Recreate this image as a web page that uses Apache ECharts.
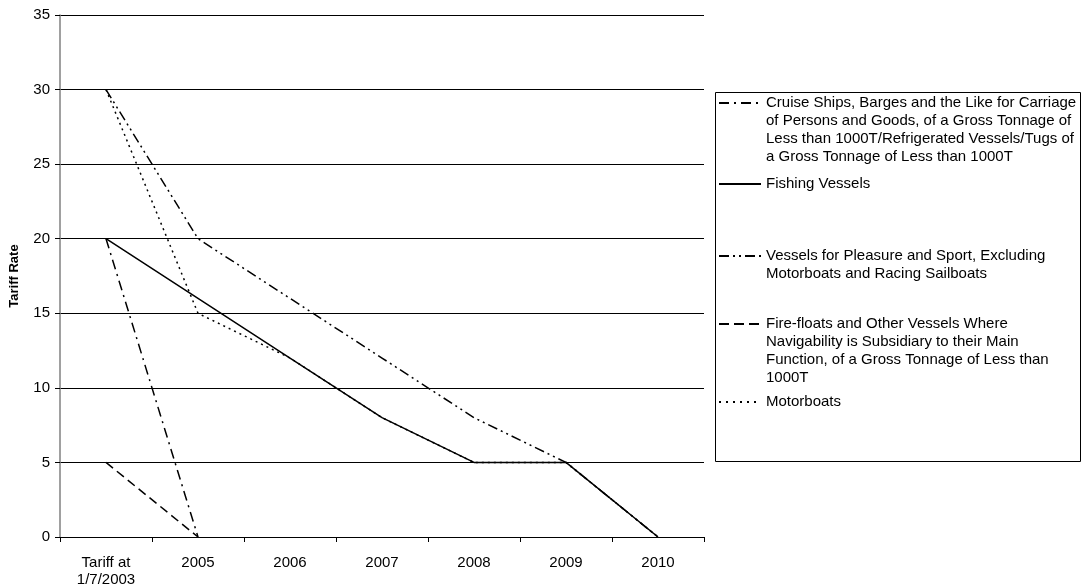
<!DOCTYPE html>
<html>
<head>
<meta charset="utf-8">
<script src="https://cdn.jsdelivr.net/npm/echarts@6/dist/echarts.min.js"></script>
<style>html,body{margin:0;padding:0;background:#fff}#c{width:1085px;height:588px}</style>
</head>
<body>
<div id="c"></div>
<script>
const categories = ['Tariff at\n1/7/2003', '2005', '2006', '2007', '2008', '2009', '2010'];
const yTicks = [0, 5, 10, 15, 20, 25, 30, 35];
const nameCruise = 'Cruise Ships, Barges and the Like for Carriage of Persons and Goods, of a Gross Tonnage of Less than 1000T/Refrigerated Vessels/Tugs of a Gross Tonnage of Less than 1000T';
const nameFishing = 'Fishing Vessels';
const namePleasure = 'Vessels for Pleasure and Sport, Excluding Motorboats and Racing Sailboats';
const nameFire = 'Fire-floats and Other Vessels Where Navigability is Subsidiary to their Main Function, of a Gross Tonnage of Less than 1000T';
const nameMotor = 'Motorboats';
const legendLines = {};
legendLines[nameCruise] = ['Cruise Ships, Barges and the Like for Carriage', 'of Persons and Goods, of a Gross Tonnage of', 'Less than 1000T/Refrigerated Vessels/Tugs of', 'a Gross Tonnage of Less than 1000T'];
legendLines[nameFishing] = ['Fishing Vessels'];
legendLines[namePleasure] = ['Vessels for Pleasure and Sport, Excluding', 'Motorboats and Racing Sailboats'];
legendLines[nameFire] = ['Fire-floats and Other Vessels Where', 'Navigability is Subsidiary to their Main', 'Function, of a Gross Tonnage of Less than', '1000T'];
legendLines[nameMotor] = ['Motorboats'];

const cruise = [20, 0, null, null, null, null, null];
const fishing = [20, 16, 12, 8, 5, 5, 0];
const pleasure = [30, 20, 16, 12, 8, 5, 0];
const fire = [5, 0, null, null, null, null, null];
const motor = [30, 15, 12, 8, 5, 5, 0];

const FONT = '"Liberation Sans", Arial, sans-serif';
const LH = 18;
const legendCenters = [
  [nameCruise, 103, [10, 5, 2, 5]],
  [nameFishing, 184, 'solid'],
  [namePleasure, 256, [10, 4, 2, 4, 2, 4]],
  [nameFire, 324, [10, 5]],
  [nameMotor, 402, [2, 5]]
];

const legends = legendCenters.map(function (p) {
  const n = legendLines[p[0]].length;
  return {
    data: [p[0]],
    left: 718,
    top: p[1] - LH * n + 9,
    padding: 0,
    itemWidth: 42,
    itemHeight: 14,
    selectedMode: false,
    itemStyle: { color: 'rgba(0,0,0,0)', borderColor: 'rgba(0,0,0,0)', borderWidth: 0 },
    lineStyle: { color: '#000', width: 2, type: p[2] },
    formatter: function (name) {
      const ls = legendLines[name];
      const pad = [];
      for (let i = 1; i < ls.length; i++) pad.push(' ');
      return pad.concat(ls).join('\n');
    },
    textStyle: { fontFamily: FONT, fontSize: 15, color: '#000', lineHeight: LH }
  };
});

function mk(name, data, type, z) {
  return {
    name: name, type: 'line', data: data, symbol: 'none', z: z,
    lineStyle: { color: '#000', width: 1.5, type: type },
    itemStyle: { color: '#000' }
  };
}

const chart = echarts.init(document.getElementById('c'), null, { renderer: 'canvas' });
chart.setOption({
  animation: false,
  backgroundColor: '#fff',
  grid: { left: 60, top: 15, width: 644, height: 524, containLabel: false },
  legend: legends,
  graphic: [{
    type: 'rect', shape: { x: 715.5, y: 92.5, width: 365, height: 369 },
    style: { fill: 'none', stroke: '#000', lineWidth: 1 }, z: 0
  }],
  xAxis: {
    type: 'category', data: categories, boundaryGap: true,
    axisLine: { lineStyle: { color: '#000', width: 1 } },
    axisTick: { show: true, length: 5, inside: false, lineStyle: { color: '#000' } },
    axisLabel: { color: '#000', fontFamily: FONT, fontSize: 15, lineHeight: 17, margin: 17, interval: 0 },
    splitLine: { show: false }
  },
  yAxis: {
    type: 'value', min: yTicks[0], max: yTicks[yTicks.length - 1], interval: 5,
    name: 'Tariff Rate', nameLocation: 'middle', nameGap: 39,
    nameTextStyle: { fontFamily: FONT, fontSize: 13, fontWeight: 'bold', color: '#000' },
    axisLine: { show: true, lineStyle: { color: '#808080', width: 1.5 } },
    axisTick: { show: true, length: 5, lineStyle: { color: '#000' } },
    axisLabel: { color: '#000', fontFamily: FONT, fontSize: 15, margin: 10 },
    splitLine: { show: true, lineStyle: { color: '#000', width: 1 } }
  },
  series: [
    mk(nameCruise, cruise, [10, 5, 2, 5], 3),
    mk(nameFishing, fishing, 'solid', 2),
    mk(namePleasure, pleasure, [10, 4, 2, 4, 2, 4], 3),
    mk(nameFire, fire, [9, 5], 3),
    mk(nameMotor, motor, [2, 4], 4)
  ]
});
</script>
</body>
</html>
